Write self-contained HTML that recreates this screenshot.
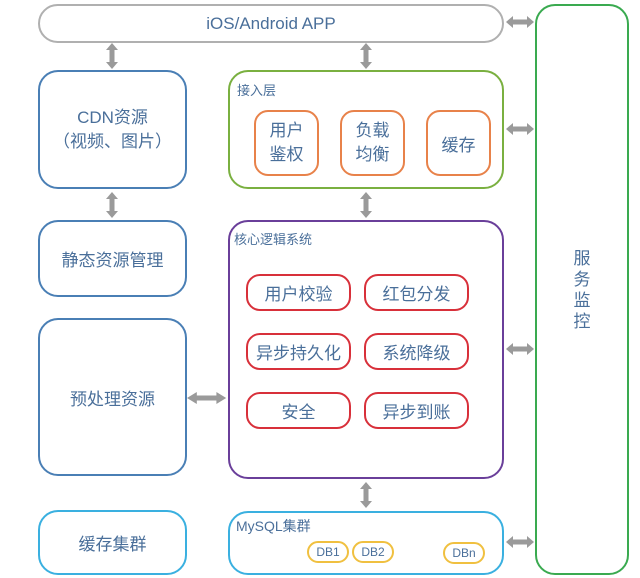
<!DOCTYPE html>
<html><head><meta charset="utf-8"><style>
body{margin:0;width:640px;height:578px;background:#fff;position:relative;overflow:hidden;font-family:"Liberation Sans","Noto Sans CJK SC",sans-serif;color:#4a6f9a}
.b{position:absolute;box-sizing:border-box;border:2px solid;border-radius:20px;display:flex;align-items:center;justify-content:center;text-align:center}
.l{position:absolute;font-size:13px}
</style></head><body>
<div class="b" style="left:38px;top:4px;width:466px;height:39px;border-color:#b0b0b0;font-size:17px">iOS/Android APP</div>
<div class="b" style="left:535px;top:4px;width:94px;height:571px;border-color:#3aaa50;font-size:17px;line-height:21px">服<br>务<br>监<br>控</div>
<div class="b" style="left:38px;top:70px;width:149px;height:119px;border-color:#4a7fb5;font-size:17px;line-height:24px">CDN资源<br>（视频、图片）</div>
<div class="b" style="left:38px;top:220px;width:149px;height:77px;border-color:#4a7fb5;font-size:17px">静态资源管理</div>
<div class="b" style="left:38px;top:318px;width:149px;height:158px;border-color:#4a7fb5;font-size:17px">预处理资源</div>
<div class="b" style="left:38px;top:510px;width:149px;height:65px;border-color:#3ab0e0;font-size:17px">缓存集群</div>
<div class="b" style="left:228px;top:70px;width:276px;height:119px;border-color:#7ab040"></div>
<div class="l" style="left:237px;top:80px">接入层</div>
<div class="b" style="left:254px;top:110px;width:65px;height:66px;border-color:#e8824a;border-radius:14px;font-size:17px;line-height:24px">用户<br>鉴权</div>
<div class="b" style="left:340px;top:110px;width:65px;height:66px;border-color:#e8824a;border-radius:14px;font-size:17px;line-height:24px">负载<br>均衡</div>
<div class="b" style="left:426px;top:110px;width:65px;height:66px;border-color:#e8824a;border-radius:14px;font-size:17px">缓存</div>
<div class="b" style="left:228px;top:220px;width:276px;height:259px;border-color:#6a3f9a"></div>
<div class="l" style="left:234px;top:229px">核心逻辑系统</div>
<div class="b" style="left:246px;top:274px;width:105px;height:37px;border-color:#d8303a;border-radius:14px;font-size:17px">用户校验</div>
<div class="b" style="left:364px;top:274px;width:105px;height:37px;border-color:#d8303a;border-radius:14px;font-size:17px">红包分发</div>
<div class="b" style="left:246px;top:333px;width:105px;height:37px;border-color:#d8303a;border-radius:14px;font-size:17px">异步持久化</div>
<div class="b" style="left:364px;top:333px;width:105px;height:37px;border-color:#d8303a;border-radius:14px;font-size:17px">系统降级</div>
<div class="b" style="left:246px;top:392px;width:105px;height:37px;border-color:#d8303a;border-radius:14px;font-size:17px">安全</div>
<div class="b" style="left:364px;top:392px;width:105px;height:37px;border-color:#d8303a;border-radius:14px;font-size:17px">异步到账</div>
<div class="b" style="left:228px;top:511px;width:276px;height:64px;border-color:#3ab0e0"></div>
<div class="l" style="left:236px;top:516px;font-size:14px">MySQL集群</div>
<div class="b" style="left:307px;top:541px;width:42px;height:22px;border-color:#f0c040;border-radius:11px;font-size:12px">DB1</div>
<div class="b" style="left:352px;top:541px;width:42px;height:22px;border-color:#f0c040;border-radius:11px;font-size:12px">DB2</div>
<div class="b" style="left:443px;top:542px;width:42px;height:22px;border-color:#f0c040;border-radius:11px;font-size:12px">DBn</div>
<svg width="640" height="578" style="position:absolute;left:0;top:0" fill="#9a9a9a" stroke="none">
<defs>
<g id="v"><rect x="-2.5" y="5" width="5" height="16"/><polygon points="0,0 6,7 -6,7"/><polygon points="0,26 6,19 -6,19"/></g>
<g id="h"><rect x="5" y="-2.5" width="18" height="5"/><polygon points="0,0 7,-6 7,6"/><polygon points="28,0 21,-6 21,6"/></g>
</defs>
<use href="#v" x="112" y="43"/>
<use href="#v" x="366" y="43"/>
<use href="#v" x="112" y="192"/>
<use href="#v" x="366" y="192"/>
<use href="#v" x="366" y="482"/>
<g transform="translate(187,398) scale(1.4,1)"><use href="#h"/></g>
<use href="#h" x="506" y="22"/>
<use href="#h" x="506" y="129"/>
<use href="#h" x="506" y="349"/>
<use href="#h" x="506" y="542"/>
</svg>
</body></html>
